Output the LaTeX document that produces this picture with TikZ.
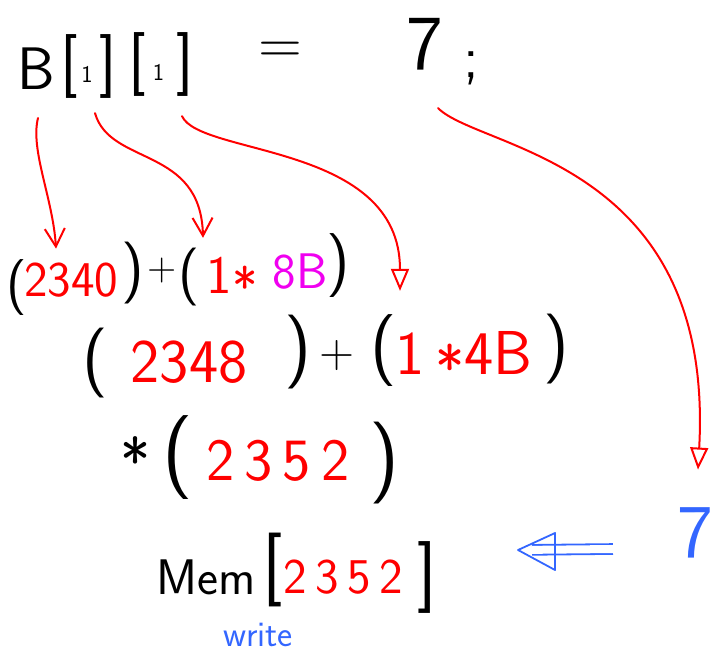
\documentclass[tikz,border=0pt]{standalone}
\usepackage{fontspec}
\usetikzlibrary{arrows.meta}

\definecolor{inkred}{RGB}{255,0,0}
\definecolor{inkpink}{RGB}{240,0,240}
\definecolor{inkblue}{RGB}{51,102,255}

\tikzset{
  handtext/.style={inner sep=0pt, font=\sffamily\fontsize{#1}{#1}\selectfont},
  pointer/.style={inkred, line width=2pt, line cap=round,
    -{Straight Barb[length=18pt,width=20pt]}},
  pointerhead/.style={inkred, line width=2pt, line cap=round,
    -{Triangle[open,length=22pt,width=18pt]}},
  bluestroke/.style={inkblue, line width=1.8pt, line join=round},
}

\begin{document}
\begin{tikzpicture}[x=1pt, y=-1pt]
    \useasboundingbox (0,0) rectangle (720,667);

    % 1. ASSIGNMENT STATEMENT
    \node[handtext=60] (B) at (36,69) {B};
    \node[handtext=64] (idx1) at (89,66) {[\kern3pt{\fontsize{24}{24}\selectfont 1}\kern7pt]};
    \node[handtext=64] (idx2) at (161,64) {[\kern7pt{\fontsize{24}{24}\selectfont 1}\kern12pt]};
    \node[handtext=60] (eq) at (280,53) {=};
    \node[handtext=78] (val) at (425,44) {7};
    \node[handtext=60] (semi) at (471,68) {;};

    % 2. FIRST STEP: ROW OFFSET
    \node[handtext=56] (lpa) at (17,288) {(};
    \node[handtext=50, text=inkred] (base) at (71,280) {2340};
    \node[handtext=62] (rpa) at (133,273) {)};
    \node[handtext=40] (plusa) at (162,271) {+};
    \node[handtext=58] (lpb) at (189,277) {(};
    \node[handtext=54, text=inkred] (rowmul) at (232,275) {1\raisebox{-.25em}[0pt][0pt]{*}};
    \node[handtext=50, text=inkpink] (rowsize) at (300,272) {8B};
    \node[handtext=64] (rpb) at (338,266) {)};

    % 3. SECOND STEP: COLUMN OFFSET
    \node[handtext=70] (lpc) at (95,363) {(};
    \node[handtext=62, text=inkred] (rowaddr) at (189,362) {2348};
    \node[handtext=74] (rpc) at (298,352) {)};
    \node[handtext=48] (plusb) at (337,356) {+};
    \node[handtext=72] (lpd) at (384,351) {(};
    \node[handtext=62, text=inkred] (colmul) at (464,353) {1\,\raisebox{-.25em}[0pt][0pt]{*}4B};
    \node[handtext=70] (rpd) at (556,349) {)};

    % 4. DEREFERENCE
    \node[handtext=64] (deref) at (136,461) {*};
    \node[handtext=84] (lpe) at (178,458) {(};
    \node[handtext=60, text=inkred] (elemaddr) at (278,461) {2\,3\,5\,2};
    \node[handtext=82] (rpe) at (385,463) {)};

    % 5. MEMORY WRITE
    \node[handtext=50] (mem) at (206,577) {Mem};
    \node[handtext=74] (lbk) at (273,570) {[};
    \node[handtext=50, text=inkred] (memaddr) at (343,577) {2\,3\,5\,2};
    \node[handtext=72] (rbk) at (427,577) {]};
    \node[handtext=36, text=inkblue] (wr) at (258,635) {write};

    % 6. VALUE GOING INTO MEMORY (hollow double arrow)
    \node[handtext=76, text=inkblue] (newval) at (695,533) {7};
    \coordinate (tip) at ([xshift=81pt,yshift=27pt]rbk.east);
    \draw[bluestroke, double, double distance=8pt, shorten >=14pt]
        ([xshift=-64pt,yshift=-16pt]newval.west) -- (tip);
    \draw[bluestroke] (tip) -- ++(37,-17) -- ++(0,37) -- cycle;

    % 7. RED POINTERS FROM THE STATEMENT
    \draw[pointer] ([xshift=2pt,yshift=-28pt]B.south)
        .. controls +(-8,32) and +(-3,-50) .. ([xshift=-15pt,yshift=14pt]base.north);
    \draw[pointer] ([xshift=6pt,yshift=-15pt]idx1.south)
        .. controls +(15,53) and +(-2,-92) .. ([xshift=14pt,yshift=10pt]lpb.north);
    \draw[pointerhead] ([xshift=21pt,yshift=-20pt]idx2.south)
        .. controls +(18,40) and +(0,-148) .. ([xshift=16pt,yshift=24pt]lpd.north);
    \draw[pointerhead] ([xshift=13pt,yshift=-38pt]val.south)
        .. controls +(42,42) and +(17,-310) .. ([xshift=3pt,yshift=38pt]newval.north);

\end{tikzpicture}
\end{document}
